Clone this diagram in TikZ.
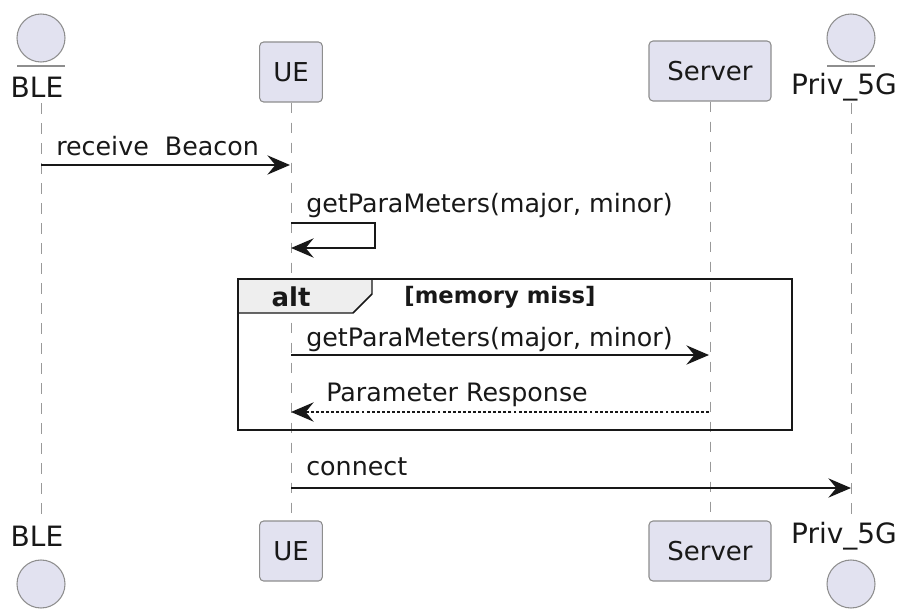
\documentclass[tikz,border=0pt]{standalone}
\usepackage{fontspec}
\setmainfont{DejaVu Sans}
\usetikzlibrary{arrows.meta}
\definecolor{partfill}{HTML}{E2E2F0}
\definecolor{partline}{HTML}{8E8E8E}
\definecolor{tabfill}{HTML}{EEEEEE}
\definecolor{ink}{HTML}{181818}
\begin{document}
\begin{tikzpicture}[x=0.75pt,y=-0.75pt,
  lbl/.style={font=\fontsize{19}{22}\selectfont, text=ink, inner sep=0pt},
  msglbl/.style={lbl, anchor=west},
  entlbl/.style={lbl, font=\fontsize{21}{25}\selectfont},
  partbox/.style={draw=partline, fill=partfill, line width=0.8pt, rounded corners=3pt,
    minimum height=45pt, lbl, font=\fontsize{19.5}{23}\selectfont},
  entity/.style={circle, draw=partline, fill=partfill, line width=0.8pt, minimum size=36pt, inner sep=0pt},
  lifeline/.style={draw=gray!80, line width=0.7pt, dash pattern=on 8pt off 7pt},
  msg/.style={draw=ink, line width=1.1pt, -{Stealth[length=17pt, width=14.5pt, inset=6pt]}},
  reply/.style={msg, dash pattern=on 2.2pt off 1.6pt},
  frameline/.style={draw=ink, line width=1.6pt}
]
\useasboundingbox (0,0) rectangle (899,610);

% --- participants, top row ---
\node[entity] (bleC) at (41,38) {};
\draw[draw=partline, line width=0.8pt] (17,66) -- (65,66);
\node[entlbl] (bleT) at (37,87) {BLE};
\node[partbox, minimum width=47pt] (ueT) at (291,72) {UE};
\node[partbox, minimum width=91.5pt] (srvT) at (710,71) {Server};
\node[entity] (p5C) at (851,38) {};
\draw[draw=partline, line width=0.8pt] (827,66) -- (875,66);
\node[entlbl] (p5T) at (844,87) {Priv\_5G};

% --- participants, bottom row ---
\node[entlbl] (bleB) at (37,536) {BLE};
\node[entity] (bleBC) at (41,584) {};
\node[partbox, minimum width=47pt] (ueB) at (291,551) {UE};
\node[partbox, minimum width=91.5pt] (srvB) at (710,551) {Server};
\node[entlbl] (p5B) at (844,536) {Priv\_5G};
\node[entity] (p5BC) at (851,584) {};

% --- lifelines ---
\coordinate (bleL1) at (41,103);
\coordinate (bleL2) at (41,518);
\coordinate (p5L1) at (851,103);
\coordinate (p5L2) at (851,518);
\draw[lifeline] (bleL1) -- (bleL2);
\draw[lifeline] (ueT.south) -- (ueB.north);
\draw[lifeline] (srvT.south) -- (srvB.north);
\draw[lifeline] (p5L1) -- (p5L2);

% --- alt frame ---
\draw[frameline, fill=white] (238,279) rectangle (792,430);
\draw[lifeline] (ueT.south) -- (ueB.north);
\draw[lifeline] (srvT.south) -- (srvB.north);
\draw[frameline, fill=tabfill, line width=1.1pt] (238,279) -- (372,279) -- (372,294) -- (353,313) -- (238,313) -- cycle;
\draw[frameline] (238,279) rectangle (792,430);
\node[lbl, font=\fontsize{19.5}{23}\selectfont\bfseries] (altT) at (291,297) {alt};
\node[lbl, font=\fontsize{17}{20}\selectfont\bfseries] (altG) at (500,297) {[memory miss]};

% --- message anchors on lifelines ---
\coordinate (m1a) at (41,165);
\coordinate (m1b) at (290,165);
\coordinate (m2a) at (291,223);
\coordinate (m2r1) at (375,223);
\coordinate (m2r2) at (375,248);
\coordinate (m2b) at (291,248);
\coordinate (m3a) at (291,355);
\coordinate (m3b) at (709,355);
\coordinate (m4a) at (709,412);
\coordinate (m4b) at (291,412);
\coordinate (m5a) at (291,488);
\coordinate (m5b) at (851,488);

% --- messages ---
\draw[msg] (m1a) -- (m1b);
\node[msglbl] (m1t) at (56,146) {receive\ \ Beacon};

\draw[msg] (m2a) -- (m2r1) -- (m2r2) -- (m2b);
\node[msglbl] (m2t) at (306,206) {getParaMeters(major, minor)};

\draw[msg] (m3a) -- (m3b);
\node[msglbl] (m3t) at (306,340) {getParaMeters(major, minor)};

\draw[reply] (m4a) -- (m4b);
\node[msglbl] (m4t) at (326,395) {Parameter Response};

\draw[msg] (m5a) -- (m5b);
\node[msglbl] (m5t) at (306,467) {connect};
\end{tikzpicture}
\end{document}
